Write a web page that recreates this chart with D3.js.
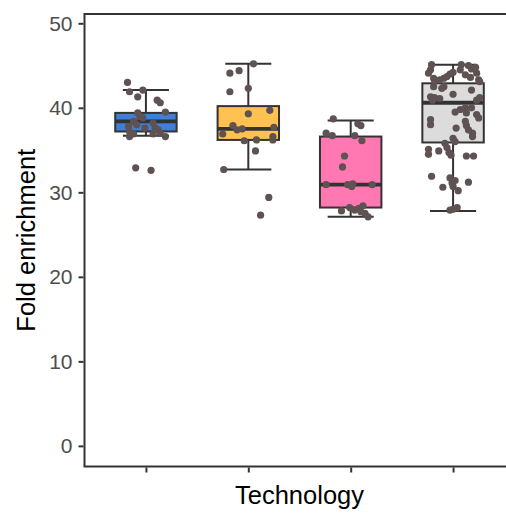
<!DOCTYPE html>
<html>
<head>
<meta charset="utf-8">
<script src="https://cdn.jsdelivr.net/npm/d3@7"></script>
<style>
	body { margin: 0; background: #fff; }
	text { font-family: 'Liberation Sans', Arial, sans-serif; }
</style>
</head>
<body>
<svg id="chart" width="506" height="513"></svg>
<script>
// categories and fill colours
const technologies = ['A', 'B', 'C', 'D'];
const fills = ['#3f7fd6', '#ffc14f', '#ff78b1', '#dcdcdc'];

// box statistics
const whiskerLow = [36.7, 32.7, 27.1, 27.8];
const q1 = [37.2, 36.2, 28.2, 35.9];
const medians = [38.4, 37.5, 30.9, 40.6];
const q3 = [39.4, 40.2, 36.6, 42.9];
const whiskerHigh = [42.1, 45.2, 38.5, 45.1];

// observed values per technology, with the jitter offset (category units)
const valuesA = [43.0, 41.9, 42.1, 41.3, 40.9, 40.6, 39.5, 39.4, 39.0, 38.8, 38.4, 37.8, 38.0, 37.6, 38.2, 37.6, 37.4, 37.2, 36.9, 36.9, 37.0, 36.6, 36.6, 32.9, 32.6];
const jitterA = [-0.18, -0.16, -0.03, -0.08, 0.11, 0.14, 0.19, -0.08, -0.06, -0.03, -0.12, -0.17, -0.09, -0.01, 0.07, 0.09, 0.12, -0.16, -0.12, 0.07, 0.14, 0.19, -0.16, -0.10, 0.05];

const valuesB = [45.2, 44.1, 44.4, 41.9, 42.3, 39.3, 39.7, 37.9, 37.4, 37.5, 37.7, 36.9, 36.1, 36.2, 36.6, 36.2, 34.9, 32.7, 29.4, 27.3];
const jitterB = [0.05, -0.18, -0.09, -0.18, 0, 0, 0.21, -0.15, -0.11, -0.06, 0.25, -0.25, -0.04, 0.08, 0.24, 0.24, 0.07, -0.24, 0.2, 0.12];

const valuesC = [38.7, 38.1, 37.9, 37.0, 36.7, 36.7, 36.1, 34.3, 33.0, 30.9, 30.9, 31.0, 30.7, 30.9, 27.8, 28.2, 27.9, 28.1, 28.4, 27.5, 27.1, 27.7];
const jitterC = [-0.17, 0.07, 0.1, -0.24, -0.18, 0.04, 0.11, -0.06, -0.08, -0.24, -0.03, 0.02, 0.01, 0.21, -0.09, -0.01, 0.04, 0.08, 0.12, 0.14, 0.17, 0.1];

const valuesD = [45.1, 44.5, 44.1, 43.5, 43.2, 43.3, 43.5, 43.7, 44.0, 44.2, 42.5, 42.3, 45.1, 45.0, 44.6, 44.8, 44.1, 43.9, 43.6, 43.3, 43.1, 44.5, 42.5,
	41.3, 41.2, 41.1, 40.9, 41.6, 42.1, 40.9, 41.2,
	39.5, 39.8, 40.0, 40.0, 39.4, 39.2, 38.8, 38.6, 38.0, 37.6, 37.9, 37.4, 36.6, 36.4, 36.0, 38.4, 37.0,
	35.8, 35.3, 34.7, 34.4, 35.1, 34.5, 34.9, 34.3, 34.3,
	31.9, 31.7, 31.1, 31.4, 30.6, 30.7, 30.2, 31.2, 27.9, 28.0, 28.2];
const jitterD = [-0.21, -0.22, -0.24, -0.19, -0.18, -0.13, -0.09, -0.06, -0.03, 0.0, -0.09, -0.11, 0.08, 0.15, 0.18, 0.22, 0.23, 0.12, 0.17, 0.25, 0.26, 0.07, -0.19,
	-0.22, -0.18, -0.13, -0.20, 0.0, 0.18, 0.23, 0.26,
	0.02, 0.07, 0.12, 0.18, 0.13, 0.23, 0.25, -0.22, -0.22, 0.03, 0.13, 0.15, 0.19, 0.0, 0.02, 0.12, 0.19,
	-0.08, -0.06, -0.04, -0.02, -0.24, -0.24, -0.14, 0.13, 0.2,
	-0.21, -0.03, -0.01, 0.02, -0.10, 0.0, 0.05, 0.15, -0.03, 0.0, 0.04];

const yTicks = [0, 10, 20, 30, 40, 50];

const allValues = [valuesA, valuesB, valuesC, valuesD];
const allJitter = [jitterA, jitterB, jitterC, jitterD];

const boxes = technologies.map((t, i) => ({
	tech: t,
	fill: fills[i],
	lo: whiskerLow[i],
	q1: q1[i],
	med: medians[i],
	q3: q3[i],
	hi: whiskerHigh[i]
}));

const points = [];
technologies.forEach((t, i) => {
	allValues[i].forEach((v, j) => {
		points.push({ tech: t, value: v, jitter: allJitter[i][j] });
	});
});

const svg = d3.select('#chart');
const panel = { left: 84.5, top: 14, right: 514.5, bottom: 466.5 };

// discrete x scale: categories at 1..4, expanded 0.6 each side like ggplot
const x = d3.scaleLinear().domain([0.4, technologies.length + 0.6]).range([panel.left, panel.right]);
const xPos = (t) => x(technologies.indexOf(t) + 1);
const xLen = (u) => x(u) - x(0);
const y = d3.scaleLinear().domain([-2.44, 51.1]).range([panel.bottom, panel.top]);

const boxW = 0.6, capW = 0.45;
const ink = '#333333';

const boxG = svg.append('g').attr('class', 'boxes');
const bx = boxG.selectAll('g.box').data(boxes).enter().append('g').attr('class', 'box');

// whiskers
bx.append('line')
	.attr('x1', (d) => xPos(d.tech)).attr('x2', (d) => xPos(d.tech))
	.attr('y1', (d) => y(d.hi)).attr('y2', (d) => y(d.q3))
	.attr('stroke', ink).attr('stroke-width', 2);
bx.append('line')
	.attr('x1', (d) => xPos(d.tech)).attr('x2', (d) => xPos(d.tech))
	.attr('y1', (d) => y(d.q1)).attr('y2', (d) => y(d.lo))
	.attr('stroke', ink).attr('stroke-width', 2);
// caps
['hi', 'lo'].forEach((k) => {
	bx.append('line')
		.attr('x1', (d) => xPos(d.tech) - xLen(capW / 2))
		.attr('x2', (d) => xPos(d.tech) + xLen(capW / 2))
		.attr('y1', (d) => y(d[k])).attr('y2', (d) => y(d[k]))
		.attr('stroke', ink).attr('stroke-width', 2);
});
// boxes
bx.append('rect')
	.attr('x', (d) => xPos(d.tech) - xLen(boxW / 2))
	.attr('width', xLen(boxW))
	.attr('y', (d) => y(d.q3))
	.attr('height', (d) => y(d.q1) - y(d.q3))
	.attr('fill', (d) => d.fill)
	.attr('stroke', ink).attr('stroke-width', 2);
// medians
bx.append('line')
	.attr('x1', (d) => xPos(d.tech) - xLen(boxW / 2))
	.attr('x2', (d) => xPos(d.tech) + xLen(boxW / 2))
	.attr('y1', (d) => y(d.med)).attr('y2', (d) => y(d.med))
	.attr('stroke', ink).attr('stroke-width', 3.8);

// jittered points
svg.append('g').attr('class', 'points')
	.selectAll('circle').data(points).enter().append('circle')
	.attr('cx', (d) => xPos(d.tech) + xLen(d.jitter))
	.attr('cy', (d) => y(d.value))
	.attr('r', 3.6)
	.attr('fill', '#5e5252');

// panel border (right side falls outside the window)
svg.append('rect')
	.attr('x', panel.left).attr('y', panel.top)
	.attr('width', panel.right - panel.left).attr('height', panel.bottom - panel.top)
	.attr('fill', 'none').attr('stroke', ink).attr('stroke-width', 2);

// y axis
const yAxis = svg.append('g')
	.attr('transform', `translate(${panel.left - 1},0)`)
	.call(d3.axisLeft(y).tickValues(yTicks).tickSize(5).tickPadding(6));
yAxis.select('.domain').remove();
yAxis.selectAll('.tick line').attr('stroke', ink).attr('stroke-width', 2);
yAxis.selectAll('.tick text')
	.attr('fill', '#4d4d4d')
	.style('font-size', '21px')
	.style('font-family', "'Liberation Sans', Arial, sans-serif");

// x axis (ticks only, no labels)
const xAxis = svg.append('g')
	.attr('transform', `translate(0,${panel.bottom + 1})`)
	.call(d3.axisBottom(x).tickValues(d3.range(1, technologies.length + 1)).tickSize(5).tickFormat(''));
xAxis.select('.domain').remove();
xAxis.selectAll('.tick line').attr('stroke', ink).attr('stroke-width', 2);

// titles
svg.append('text')
	.attr('x', (panel.left + panel.right) / 2).attr('y', 504)
	.attr('text-anchor', 'middle')
	.style('font-size', '25.5px')
	.attr('fill', '#000')
	.text('Technology');

svg.append('text')
	.attr('transform', `translate(35,${(panel.top + panel.bottom) / 2}) rotate(-90)`)
	.attr('text-anchor', 'middle')
	.style('font-size', '25.5px')
	.attr('fill', '#000')
	.text('Fold enrichment');
</script>
</body>
</html>
